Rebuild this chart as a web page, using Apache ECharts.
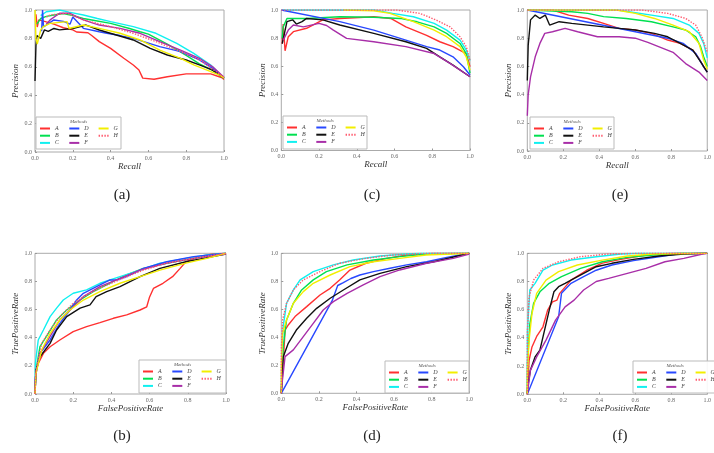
<!DOCTYPE html>
<html><head><meta charset="utf-8">
<script src="https://cdn.jsdelivr.net/npm/echarts@6/dist/echarts.min.js"></script>
<style>html,body{margin:0;padding:0;background:#fff}#c{width:714px;height:453px}</style>
</head><body><div id="c"></div>
<script>
const methods = ['A','B','C','D','E','F','G','H'];
const ticks = [0,0.2,0.4,0.6,0.8,1.0];

// (a) PR
const a_A = [[0.005,0.97],[0.012,0.88],[0.02,0.93],[0.05,0.92],[0.1,0.9],[0.15,0.875],[0.2,0.86],[0.22,0.845],[0.28,0.84],[0.3,0.82],[0.34,0.777],[0.4,0.73],[0.47,0.66],[0.52,0.613],[0.55,0.577],[0.57,0.52],[0.63,0.512],[0.7,0.53],[0.8,0.55],[0.93,0.55],[0.99,0.523],[1.0,0.51]];
const a_B = [[0.01,0.9],[0.03,0.94],[0.06,0.955],[0.1,0.965],[0.15,0.975],[0.2,0.96],[0.256,0.94],[0.3,0.93],[0.4,0.906],[0.5,0.87],[0.556,0.847],[0.6,0.83],[0.7,0.76],[0.8,0.68],[0.87,0.62],[0.94,0.575],[1.0,0.52]];
const a_C = [[0.03,0.96],[0.06,0.988],[0.13,1.0],[0.18,0.985],[0.256,0.965],[0.33,0.94],[0.4,0.918],[0.52,0.883],[0.64,0.836],[0.75,0.765],[0.84,0.695],[0.93,0.613],[1.0,0.52]];
const a_D = [[0.035,0.85],[0.04,1.0],[0.045,0.88],[0.1,0.93],[0.15,0.92],[0.185,0.9],[0.2,0.95],[0.256,0.871],[0.34,0.847],[0.38,0.836],[0.45,0.82],[0.52,0.8],[0.66,0.742],[0.77,0.707],[0.87,0.648],[0.94,0.589],[1.0,0.52]];
const a_E = [[0.0,0.5],[0.005,0.75],[0.01,0.82],[0.03,0.8],[0.05,0.86],[0.07,0.85],[0.1,0.87],[0.13,0.86],[0.2,0.87],[0.27,0.894],[0.34,0.859],[0.43,0.824],[0.52,0.789],[0.61,0.73],[0.7,0.683],[0.8,0.648],[0.87,0.613],[0.94,0.577],[1.0,0.52]];
const a_F = [[0.06,0.9],[0.08,0.93],[0.13,0.977],[0.185,0.977],[0.256,0.93],[0.34,0.894],[0.45,0.871],[0.556,0.836],[0.66,0.777],[0.77,0.718],[0.87,0.66],[0.94,0.6],[1.0,0.526]];
const a_G = [[0.0,1.0],[0.005,0.8],[0.012,0.76],[0.03,0.86],[0.044,0.883],[0.08,0.906],[0.17,0.918],[0.18,0.87],[0.256,0.894],[0.34,0.871],[0.45,0.836],[0.556,0.789],[0.66,0.718],[0.77,0.66],[0.84,0.613],[0.91,0.577],[0.98,0.54],[1.0,0.52]];
const a_H = [[0.06,0.95],[0.08,0.965],[0.17,0.977],[0.256,0.93],[0.4,0.883],[0.52,0.836],[0.64,0.777],[0.77,0.707],[0.87,0.648],[1.0,0.526]];

// (c) PR
const c_A = [[0.005,0.76],[0.01,0.9],[0.02,0.71],[0.037,0.81],[0.064,0.846],[0.134,0.87],[0.22,0.93],[0.31,0.94],[0.49,0.952],[0.58,0.94],[0.66,0.88],[0.77,0.82],[0.84,0.774],[0.91,0.739],[0.98,0.69],[1.0,0.596]];
const c_B = [[0.005,0.8],[0.01,0.88],[0.03,0.94],[0.134,0.94],[0.31,0.952],[0.49,0.948],[0.63,0.94],[0.72,0.916],[0.81,0.88],[0.876,0.834],[0.947,0.762],[0.98,0.69],[1.0,0.55]];
const c_C = [[0.0,1.0],[0.49,1.0],[0.59,0.976],[0.7,0.952],[0.81,0.905],[0.876,0.857],[0.947,0.786],[0.98,0.715],[1.0,0.64]];
const c_D = [[0.0,1.0],[0.31,0.917],[0.49,0.857],[0.66,0.786],[0.77,0.739],[0.84,0.715],[0.91,0.667],[0.965,0.596],[1.0,0.537]];
const c_E = [[0.005,0.76],[0.03,0.917],[0.06,0.93],[0.08,0.9],[0.11,0.917],[0.134,0.94],[0.22,0.93],[0.31,0.893],[0.49,0.834],[0.66,0.774],[0.77,0.727],[0.84,0.667],[0.91,0.608],[1.0,0.525]];
const c_F = [[0.01,0.786],[0.037,0.857],[0.064,0.893],[0.117,0.88],[0.2,0.905],[0.24,0.89],[0.276,0.857],[0.346,0.798],[0.49,0.774],[0.66,0.739],[0.81,0.69],[0.894,0.62],[1.0,0.525]];
const c_G = [[0.33,1.0],[0.49,0.995],[0.576,0.976],[0.7,0.917],[0.81,0.857],[0.876,0.81],[0.947,0.739],[0.98,0.667],[1.0,0.572]];
const c_H = [[0.0,1.0],[0.61,1.0],[0.735,0.976],[0.82,0.929],[0.894,0.88],[0.947,0.81],[0.98,0.739],[1.0,0.64]];

// (e) PR
const e_A = [[0.0,1.0],[0.14,1.0],[0.23,0.964],[0.336,0.94],[0.424,0.905],[0.51,0.87],[0.6,0.858],[0.69,0.834],[0.78,0.787],[0.85,0.763],[0.92,0.716],[0.954,0.656],[0.98,0.597],[1.0,0.56]];
const e_B = [[0.0,1.0],[0.247,0.988],[0.336,0.976],[0.424,0.953],[0.55,0.94],[0.69,0.917],[0.81,0.88],[0.88,0.858],[0.936,0.81],[0.963,0.74],[0.98,0.668],[1.0,0.6]];
const e_C = [[0.0,1.0],[0.5,1.0],[0.565,0.988],[0.69,0.964],[0.81,0.94],[0.9,0.893],[0.954,0.834],[0.98,0.763],[1.0,0.66]];
const e_D = [[0.0,1.0],[0.78,0.8],[0.866,0.763],[0.936,0.692],[0.98,0.597],[1.0,0.56]];
const e_E = [[0.0,0.5],[0.005,0.75],[0.018,0.93],[0.044,0.964],[0.07,0.94],[0.1,0.964],[0.124,0.893],[0.177,0.917],[0.247,0.905],[0.336,0.893],[0.424,0.88],[0.51,0.87],[0.6,0.858],[0.707,0.834],[0.78,0.81],[0.85,0.763],[0.92,0.716],[0.97,0.62],[1.0,0.56]];
const e_F = [[0.0,0.25],[0.005,0.4],[0.018,0.526],[0.044,0.668],[0.07,0.763],[0.097,0.834],[0.14,0.846],[0.21,0.87],[0.28,0.846],[0.39,0.81],[0.51,0.81],[0.6,0.8],[0.67,0.77],[0.74,0.735],[0.81,0.7],[0.88,0.62],[0.954,0.56],[1.0,0.5]];
const e_G = [[0.0,1.0],[0.495,1.0],[0.6,0.976],[0.707,0.94],[0.81,0.893],[0.9,0.846],[0.954,0.763],[0.98,0.645],[1.0,0.58]];
const e_H = [[0.0,1.0],[0.636,1.0],[0.78,0.976],[0.88,0.94],[0.936,0.893],[0.97,0.81],[1.0,0.7]];

// (b) ROC
const b_A = [[0,0],[0.005,0.17],[0.017,0.218],[0.044,0.289],[0.079,0.336],[0.13,0.384],[0.2,0.443],[0.27,0.479],[0.34,0.507],[0.41,0.538],[0.48,0.562],[0.55,0.597],[0.585,0.62],[0.6,0.69],[0.62,0.75],[0.67,0.787],[0.72,0.834],[0.76,0.893],[0.79,0.94],[0.86,0.976],[0.93,0.995],[1.0,1.0]];
const b_B = [[0,0],[0.005,0.17],[0.026,0.336],[0.06,0.41],[0.113,0.526],[0.166,0.597],[0.236,0.668],[0.305,0.727],[0.39,0.787],[0.48,0.846],[0.567,0.893],[0.69,0.929],[0.83,0.964],[0.93,0.988],[1.0,1.0]];
const b_C = [[0,0],[0.002,0.22],[0.017,0.384],[0.044,0.455],[0.079,0.55],[0.113,0.61],[0.148,0.668],[0.2,0.716],[0.27,0.74],[0.34,0.787],[0.445,0.834],[0.55,0.88],[0.654,0.93],[0.79,0.964],[0.9,0.988],[1.0,1.0]];
const b_D = [[0,0],[0.005,0.147],[0.026,0.289],[0.079,0.384],[0.13,0.502],[0.183,0.597],[0.218,0.668],[0.253,0.716],[0.34,0.775],[0.39,0.81],[0.43,0.81],[0.48,0.834],[0.567,0.893],[0.69,0.94],[0.83,0.976],[1.0,1.0]];
const b_E = [[0,0],[0.005,0.17],[0.026,0.265],[0.079,0.36],[0.113,0.455],[0.166,0.55],[0.236,0.61],[0.288,0.633],[0.32,0.692],[0.375,0.727],[0.445,0.763],[0.55,0.834],[0.654,0.893],[0.79,0.94],[0.93,0.976],[1.0,0.995]];
const b_F = [[0,0],[0.002,0.12],[0.026,0.289],[0.079,0.41],[0.13,0.526],[0.183,0.597],[0.253,0.692],[0.34,0.763],[0.445,0.822],[0.55,0.88],[0.69,0.93],[0.83,0.964],[1.0,0.995]];
const b_G = [[0,0],[0.005,0.147],[0.035,0.313],[0.079,0.43],[0.13,0.526],[0.183,0.597],[0.253,0.668],[0.34,0.727],[0.445,0.787],[0.55,0.834],[0.654,0.88],[0.79,0.93],[0.9,0.964],[1.0,1.0]];
const b_H = [[0,0],[0.005,0.17],[0.035,0.36],[0.079,0.455],[0.13,0.55],[0.2,0.645],[0.27,0.704],[0.357,0.763],[0.46,0.822],[0.567,0.88],[0.69,0.93],[0.83,0.964],[1.0,1.0]];

// (d) ROC
const d_A = [[0,0],[0.007,0.143],[0.02,0.452],[0.037,0.488],[0.073,0.548],[0.135,0.619],[0.206,0.702],[0.26,0.75],[0.31,0.81],[0.365,0.88],[0.45,0.929],[0.56,0.964],[0.667,0.988],[0.81,1.0],[1.0,1.0]];
const d_B = [[0,0],[0.002,0.048],[0.01,0.333],[0.028,0.524],[0.064,0.643],[0.108,0.738],[0.17,0.81],[0.24,0.869],[0.35,0.917],[0.49,0.952],[0.63,0.976],[0.77,0.995],[1.0,1.0]];
const d_C = [[0,0],[0.002,0.214],[0.01,0.476],[0.028,0.643],[0.064,0.738],[0.1,0.81],[0.17,0.869],[0.277,0.917],[0.383,0.952],[0.525,0.981],[0.667,0.995],[0.74,1.0],[1.0,1.0]];
const d_D = [[0,0],[0.27,0.66],[0.3,0.77],[0.33,0.79],[0.37,0.82],[0.418,0.845],[0.49,0.869],[0.578,0.893],[0.667,0.917],[0.773,0.94],[0.88,0.971],[1.0,1.0]];
const d_E = [[0,0],[0.002,0.07],[0.01,0.26],[0.037,0.357],[0.08,0.452],[0.135,0.536],[0.188,0.607],[0.26,0.679],[0.33,0.738],[0.418,0.81],[0.525,0.857],[0.667,0.905],[0.81,0.94],[1.0,1.0]];
const d_F = [[0,0],[0.002,0.048],[0.02,0.262],[0.064,0.31],[0.117,0.405],[0.17,0.5],[0.223,0.595],[0.277,0.655],[0.35,0.714],[0.436,0.774],[0.525,0.833],[0.63,0.881],[0.773,0.929],[0.915,0.964],[1.0,0.995]];
const d_G = [[0,0],[0.001,0.214],[0.007,0.43],[0.028,0.524],[0.064,0.643],[0.117,0.726],[0.17,0.786],[0.26,0.845],[0.365,0.905],[0.49,0.94],[0.63,0.964],[0.77,0.988],[1.0,1.0]];
const d_H = [[0,0],[0.001,0.333],[0.007,0.524],[0.028,0.643],[0.064,0.738],[0.117,0.81],[0.206,0.869],[0.31,0.929],[0.45,0.964],[0.596,0.988],[0.77,1.0],[1.0,1.0]];

// (f) ROC
const f_A = [[0,0],[0.002,0.05],[0.01,0.24],[0.026,0.336],[0.052,0.41],[0.087,0.479],[0.113,0.597],[0.14,0.656],[0.165,0.668],[0.18,0.716],[0.243,0.81],[0.33,0.88],[0.417,0.93],[0.52,0.957],[0.66,0.988],[0.8,1.0],[1.0,1.0]];
const f_B = [[0,0],[0.001,0.218],[0.014,0.5],[0.035,0.645],[0.07,0.727],[0.122,0.787],[0.19,0.834],[0.296,0.893],[0.417,0.94],[0.556,0.971],[0.7,0.988],[0.85,1.0],[1.0,1.0]];
const f_C = [[0,0],[0.001,0.455],[0.014,0.74],[0.043,0.787],[0.087,0.88],[0.14,0.917],[0.243,0.952],[0.383,0.976],[0.52,0.995],[0.62,1.0],[1.0,1.0]];
const f_D = [[0,0],[0.174,0.55],[0.19,0.716],[0.243,0.787],[0.313,0.834],[0.383,0.88],[0.47,0.917],[0.59,0.948],[0.73,0.976],[0.835,0.995],[1.0,1.0]];
const f_E = [[0,0],[0.002,0.05],[0.017,0.17],[0.043,0.265],[0.07,0.313],[0.096,0.455],[0.122,0.597],[0.148,0.727],[0.174,0.763],[0.21,0.787],[0.243,0.81],[0.313,0.858],[0.383,0.905],[0.47,0.929],[0.59,0.957],[0.73,0.981],[0.87,0.995],[1.0,1.0]];
const f_F = [[0,0],[0.017,0.17],[0.052,0.265],[0.104,0.384],[0.157,0.526],[0.21,0.62],[0.26,0.668],[0.313,0.74],[0.383,0.8],[0.452,0.822],[0.556,0.858],[0.66,0.893],[0.765,0.94],[0.87,0.964],[0.974,0.995],[1.0,1.0]];
const f_G = [[0,0],[0.001,0.17],[0.01,0.384],[0.026,0.573],[0.052,0.716],[0.104,0.81],[0.174,0.87],[0.278,0.917],[0.417,0.952],[0.556,0.981],[0.7,0.995],[1.0,1.0]];
const f_H = [[0,0],[0.001,0.455],[0.01,0.69],[0.035,0.81],[0.087,0.893],[0.174,0.94],[0.296,0.976],[0.452,0.995],[0.6,1.0],[1.0,1.0]];

const panelData = [
  [a_A,a_B,a_C,a_D,a_E,a_F,a_G,a_H],
  [c_A,c_B,c_C,c_D,c_E,c_F,c_G,c_H],
  [e_A,e_B,e_C,e_D,e_E,e_F,e_G,e_H],
  [b_A,b_B,b_C,b_D,b_E,b_F,b_G,b_H],
  [d_A,d_B,d_C,d_D,d_E,d_F,d_G,d_H],
  [f_A,f_B,f_C,f_D,f_E,f_F,f_G,f_H]
];
const panelLabels = ['(a)','(c)','(e)','(b)','(d)','(f)'];

const colors = ['#ff3030','#00e050','#10f0f0','#2848ff','#111111','#a82ea8','#f2ee00','#ff5a6e'];
const layout = [
  {l:35, t:10, w:189, h:142, lab:[122,195], box:[36,117,85,32]},
  {l:281.3, t:10, w:188.7, h:140.5, lab:[372,195], box:[283,116,84,33]},
  {l:527.3, t:10, w:189, h:141, lab:[620,195], box:[530,117,84,32]},
  {l:35, t:253.3, w:191, h:140.7, lab:[122,436], box:[139,360,87,33]},
  {l:281.3, t:253.3, w:188, h:140, lab:[372,436], box:[385,361,84,32]},
  {l:527.3, t:253.3, w:191.7, h:141, lab:[620,436], box:[633,361,84,32]}
];
const serif = '"Liberation Serif","DejaVu Serif",serif';
const solidIcon = 'path://M0,0h10v2h-10z';
const dottedIcon = 'path://M0,0h1.4v2h-1.4zM2.9,0h1.4v2h-1.4zM5.8,0h1.4v2h-1.4zM8.6,0h1.4v2h-1.4z';

const grid=[], xAxis=[], yAxis=[], series=[], legend=[], graphic=[];
layout.forEach((p,i)=>{
  const isPR = i<3;
  grid.push({left:p.l, top:p.t, width:p.w, height:p.h, show:true, borderColor:'#aaa', borderWidth:1});
  const axBase = {type:'value', min:0, max:1, interval:0.2, gridIndex:i,
    axisLine:{show:false}, splitLine:{show:false},
    axisTick:{show:true, inside:true, length:2, lineStyle:{color:'#999'}},
    axisLabel:{fontSize:6, color:'#666', fontFamily:serif, margin:3, formatter:v=>v.toFixed(1)},
    nameLocation:'middle',
    nameTextStyle:{fontSize:9, fontStyle:'italic', fontFamily:serif, color:'#333'}};
  xAxis.push(Object.assign({}, axBase, {name: isPR?'Recall':'FalsePositiveRate', nameGap:10}));
  yAxis.push(Object.assign({}, axBase, {name: isPR?'Precision':'TruePositiveRate', nameGap:9}));
  methods.forEach((m,k)=>{
    series.push({type:'line', name:m, xAxisIndex:i, yAxisIndex:i, data:panelData[i][k],
      symbol:'none', silent:true, animation:false, z: 2+k,
      lineStyle:{width:1.4, color:colors[k], type: m==='H'?'dotted':'solid'},
      itemStyle:{color:colors[k]}});
  });
  const [bx,by,bw,bh] = p.box;
  graphic.push({type:'rect', shape:{x:bx,y:by,width:bw,height:bh}, style:{fill:'rgba(255,255,255,0.9)', stroke:'#bbb', lineWidth:1}, z:50});
  graphic.push({type:'text', x:bx+bw/2, y:by+5, style:{text:'Methods', font:'italic 5px '+serif, fill:'#555', align:'center', verticalAlign:'middle'}, z:51});
  [['A','B','C'],['D','E','F'],['G','H']].forEach((col,ci)=>{
    legend.push({data:col.map(n=>({name:n, icon: n==='H'?dottedIcon:solidIcon})),
      orient:'vertical', left:bx+4+ci*29.3, top:by+8.5, itemWidth:10, itemHeight:2, itemGap:1.2, padding:0,
      selectedMode:false, z:60,
      textStyle:{fontSize:6, lineHeight:6, fontStyle:'italic', fontFamily:serif, color:'#444'}});
  });
  graphic.push({type:'text', x:p.lab[0], y:p.lab[1], style:{text:panelLabels[i], font:'15px '+serif, fill:'#222', align:'center', verticalAlign:'middle'}});
});

const chart = echarts.init(document.getElementById('c'), null, {renderer:'canvas'});
chart.setOption({animation:false, grid, xAxis, yAxis, series, legend, graphic});
</script></body></html>
